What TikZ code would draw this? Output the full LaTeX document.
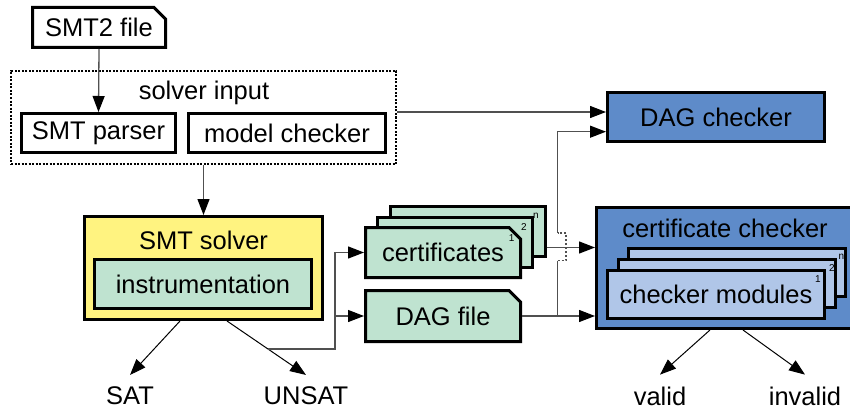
\documentclass[tikz,border=0pt]{standalone}
\usepackage{fontspec}
\setmainfont{Liberation Sans}
\usetikzlibrary{arrows.meta,shapes.misc,calc}
\definecolor{solveryellow}{RGB}{255,243,128}
\definecolor{certgreen}{RGB}{191,227,208}
\definecolor{chkblue}{RGB}{94,139,201}
\definecolor{modblue}{RGB}{176,198,232}
\definecolor{conngray}{RGB}{80,80,80}
\tikzset{
  lbl/.style={font=\fontsize{25.5}{30}\selectfont, inner sep=0pt},
  plainbox/.style={lbl, draw=black, line width=3pt, rectangle},
  filebox/.style={lbl, draw=black, line width=3pt, chamfered rectangle,
    chamfered rectangle corners=north east, chamfered rectangle xsep=8pt},
  smalllbl/.style={font=\fontsize{10}{12}\selectfont, inner sep=0pt},
  conn/.style={draw=conngray, line width=1.3pt,
    -{Triangle[length=16pt,width=12pt,color=black]}},
  connplain/.style={draw=conngray, line width=1.3pt},
  outarrow/.style={draw=black, line width=1pt,
    -{Triangle[length=16pt,width=12pt]}},
  outlbl/.style={lbl, outer sep=12pt}
}
\begin{document}
\begin{tikzpicture}[x=1pt,y=-1pt]
\useasboundingbox (0,0) rectangle (850,409);
% top
\node[filebox, minimum width=133pt, minimum height=40pt] (smt2) at (99,27.5) {SMT2 file};
\node[draw=black, line width=2.5pt, dash pattern=on 2pt off 1.5pt, minimum width=385pt, minimum height=93pt, inner sep=0pt] (si) at (203.5,117.5) {};
\node[lbl] (silbl) at (204,93) {solver input};
\node[plainbox, minimum width=154pt, minimum height=39pt] (parser) at (98.5,133) {SMT parser};
\node[plainbox, minimum width=197pt, minimum height=39pt] (mc) at (287,133) {model checker};
% solver
\node[plainbox, fill=solveryellow, minimum width=238pt, minimum height=103pt] (solver) at (203.5,268) {};
\node[lbl] (solverlbl) at (203.5,240) {SMT solver};
\node[plainbox, fill=certgreen, minimum width=217pt, minimum height=49pt] (instr) at (203,284) {instrumentation};
% outputs
\node[outlbl] (sat) at (130,396) {SAT};
\node[outlbl] (unsat) at (306,396) {UNSAT};
\node[outlbl] (valid) at (660,396) {valid};
\node[outlbl] (invalid) at (805,396) {invalid};
% certificates stack
\node[filebox, fill=certgreen, minimum width=155pt, minimum height=50pt] (c3) at (467.6,231.5) {};
\node[filebox, fill=certgreen, minimum width=155pt, minimum height=50pt] (c2) at (455.3,242) {};
\node[filebox, fill=certgreen, minimum width=155pt, minimum height=50pt] (c1) at (443,252.5) {certificates};
\node[smalllbl] at ($(c3.center)+(68.4,-15.5)$) {n};
\node[smalllbl] at ($(c2.center)+(68.7,-15.3)$) {2};
\node[smalllbl] at ($(c1.center)+(68.7,-14.8)$) {1};
\node[filebox, fill=certgreen, minimum width=155pt, minimum height=51pt] (dag) at (443,316) {DAG file};
% checkers
\node[plainbox, fill=chkblue, minimum width=217pt, minimum height=49pt] (dagchk) at (716,117) {DAG checker};
\node[plainbox, fill=chkblue, minimum width=258pt, minimum height=121pt] (certchk) at (725.5,268) {};
\node[lbl] (certchklbl) at (725,228) {certificate checker};
\node[plainbox, fill=modblue, minimum width=217pt, minimum height=48pt] (m3) at (737,272.5) {};
\node[plainbox, fill=modblue, minimum width=217pt, minimum height=48pt] (m2) at (726.5,283.5) {};
\node[plainbox, fill=modblue, minimum width=217pt, minimum height=48pt] (m1) at (716,294.5) {checker modules};
\node[smalllbl] at ($(m3.center)+(104.5,-15.5)$) {n};
\node[smalllbl] at ($(m2.center)+(105.5,-15.5)$) {2};
\node[smalllbl] at ($(m1.center)+(102,-15.5)$) {1};
% connectors
\draw[conn] (smt2.south) -- (parser.north);
\draw[conn] (si.south) -- (solver.north);
\coordinate (dagin1) at ($(dagchk.west)+(0,-5)$);
\coordinate (dagin2) at ($(dagchk.west)+(0,14.7)$);
\draw[conn] (si.east |- dagin1) -- (dagin1);
\draw[outarrow] ($(solver.south)+(-23.5,0)$) -- (sat.north);
\draw[outarrow] ($(solver.south)+(23.5,0)$) -- (unsat.north) coordinate[pos=0.52] (tap);
\coordinate (bus) at ($(c1.west)+(-29,0)$);
\draw[conn] (tap) -| (bus) -- (c1.west);
\draw[conn] (bus |- dag.west) -- (dag.west);
\coordinate (certout) at (c3.east |- 0,247.5);
\draw[conn] (certout) -- (certout -| certchk.west);
\draw[conn] (dag.east) -- (dag.east -| certchk.west);
\coordinate (riser) at (557.5,0);
\draw[connplain] (riser |- dag.east) -- (riser |- 0,260.5);
\draw[conngray, line width=1.3pt, dash pattern=on 2.5pt off 1.5pt]
  (riser |- 0,260.5) -- ++(8.5,0) -- ++(0,-27.5) -- ++(-8.5,0);
\draw[conn] (riser |- 0,233) |- (dagin2);
\draw[outarrow] ($(certchk.south)+(-15.5,0)$) -- (valid.north);
\draw[outarrow] ($(certchk.south)+(17.5,0)$) -- (invalid.north);
\end{tikzpicture}
\end{document}
